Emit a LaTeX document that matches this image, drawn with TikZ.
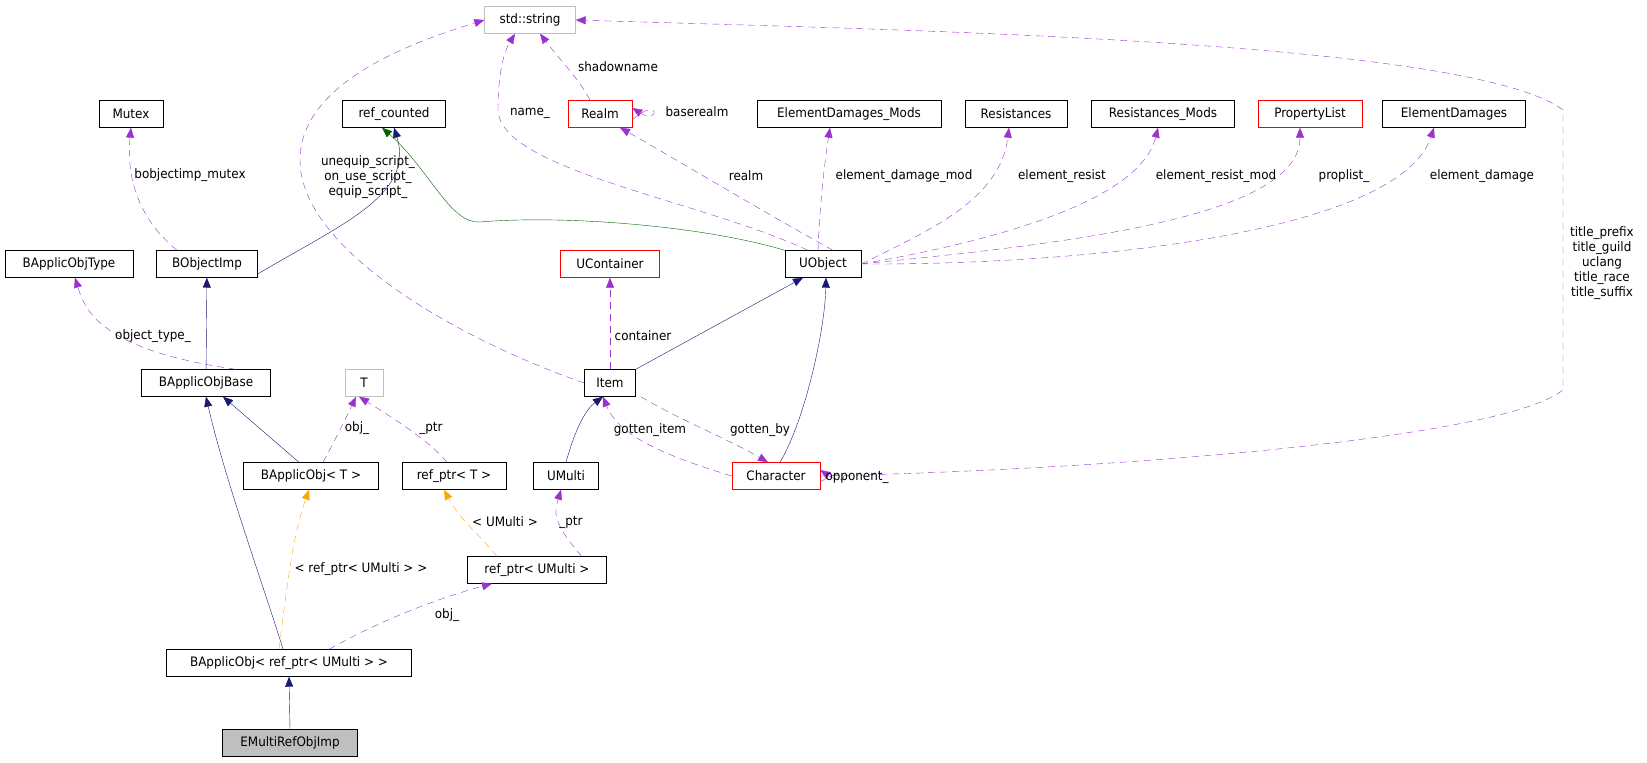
\documentclass[tikz,border=0pt]{standalone}
\usepackage{fontspec}
\setmainfont{DejaVu Sans}[FakeStretch=0.92]
\usetikzlibrary{arrows.meta}
\definecolor{inh}{HTML}{191970}
\definecolor{virt}{HTML}{006400}
\definecolor{use}{HTML}{9A32CD}
\definecolor{tmpl}{HTML}{FFA500}
\definecolor{gbox}{HTML}{BFBFBF}
\tikzset{
 box/.style={draw=black,fill=white,minimum height=27pt,inner sep=0pt,font=\fontsize{13}{15}\selectfont},
 rbox/.style={box,draw=red},
 gbx/.style={box,draw=gbox},
 lbl/.style={font=\fontsize{13}{15}\selectfont,align=center,inner sep=0pt},
 tip/.style={-{Triangle[length=10pt,width=8pt]}},
 ih/.style={tip,draw=inh},
 vh/.style={tip,draw=virt},
 us/.style={tip,draw=use,dash pattern=on 7pt off 5pt},
 tp/.style={tip,draw=tmpl,dash pattern=on 7pt off 5pt},
}
\begin{document}
\begin{tikzpicture}[x=1pt,y=-1pt]
\useasboundingbox (0,0) rectangle (1647,763);
% nodes
\node[gbx,minimum width=91pt] (str) at (530,20) {std::string};
\node[box,minimum width=64pt] (mutex) at (131,114) {Mutex};
\node[box,minimum width=103pt] (rc) at (394,114) {ref\_counted};
\node[rbox,minimum width=64pt] (realm) at (600,114) {Realm};
\node[box,minimum width=184pt] (edm) at (849,114) {ElementDamages\_Mods};
\node[box,minimum width=102pt] (res) at (1016,114) {Resistances};
\node[box,minimum width=143pt] (resm) at (1163,114) {Resistances\_Mods};
\node[rbox,minimum width=104pt] (pl) at (1310,114) {PropertyList};
\node[box,minimum width=143pt] (ed) at (1454,114) {ElementDamages};
\node[box,minimum width=128pt] (bat) at (69,264) {BApplicObjType};
\node[box,minimum width=101pt] (boi) at (207,264) {BObjectImp};
\node[rbox,minimum width=99pt] (uc) at (610,264) {UContainer};
\node[box,minimum width=76pt] (uo) at (823,264) {UObject};
\node[box,minimum width=129pt] (bab) at (206,383) {BApplicObjBase};
\node[gbx,minimum width=38pt] (T) at (364,383) {T};
\node[box,minimum width=51pt] (item) at (610,383) {Item};
\node[box,minimum width=135pt] (baT) at (311,476) {BApplicObj< T >};
\node[box,minimum width=104pt] (rpT) at (454,476) {ref\_ptr< T >};
\node[box,minimum width=65pt] (um) at (566,476) {UMulti};
\node[rbox,minimum width=88pt] (ch) at (776,476) {Character};
\node[box,minimum width=139pt] (rpU) at (537,570) {ref\_ptr< UMulti >};
\node[box,minimum width=245pt] (baU) at (289,663) {BApplicObj< ref\_ptr< UMulti > >};
\node[box,fill=gbox,minimum width=135pt] (emr) at (290,743) {EMultiRefObjImp};
% inheritance
\draw[ih] ([yshift=-10pt]boi.east) .. controls (340,225) and (415,195) .. (rc.south);
\draw[vh] (uo.north west) .. controls (700,225) and (560,215) .. (480,222) .. controls (450,224) and (430,170) .. ([xshift=-12pt]rc.south);
\draw[ih] (bab) -- (boi);
\draw[ih] (item.north east) -- ([xshift=-20pt]uo.south);
\draw[ih] ([xshift=4pt]ch.north) .. controls (805,420) and (825,330) .. ([xshift=3pt]uo.south);
\draw[ih] (um.north) .. controls (575,430) and (585,410) .. ([xshift=-7pt]item.south);
\draw[ih] ([xshift=-12pt]baT.north) -- ([xshift=17pt]bab.south);
\draw[ih] ([xshift=-6pt]baU.north) .. controls (265,590) and (225,480) .. (bab.south);
\draw[ih] (emr.north) -- (baU.south);
% usage
\draw[us] ([xshift=-30pt]boi.north) .. controls (140,220) and (126,180) .. (mutex.south);
\draw[us] ([xshift=-10pt]realm.north) .. controls (580,80) and (560,60) .. ([xshift=10pt]str.south);
\draw[us] ([xshift=-15pt]uo.north) .. controls (700,200) and (500,170) .. (498,110) .. controls (498,70) and (505,50) .. ([xshift=-15pt]str.south);
\draw[us] ([yshift=-6pt]realm.east) .. controls (660,95) and (660,125) .. ([yshift=6pt]realm.east);
\draw[us] ([xshift=10pt]uo.north) .. controls (760,210) and (660,150) .. ([xshift=20pt]realm.south);
\draw[us] ([xshift=-5pt]uo.north) .. controls (820,200) and (825,160) .. ([xshift=-19pt]edm.south);
\draw[us] (uo.east) .. controls (930,230) and (1000,200) .. ([xshift=-7pt]res.south);
\draw[us] (uo.east) .. controls (1000,240) and (1140,200) .. ([xshift=-5pt]resm.south);
\draw[us] (uo.east) .. controls (1050,245) and (1300,220) .. ([xshift=-10pt]pl.south);
\draw[us] (uo.east) .. controls (1100,265) and (1400,230) .. ([xshift=-20pt]ed.south);
\draw[us] (item.west) .. controls (460,340) and (300,250) .. (300,160) .. controls (300,80) and (420,40) .. (str.west);
\draw[us] (ch.east) .. controls (1100,470) and (1500,440) .. (1563,390) -- (1563,110) .. controls (1470,40) and (900,30) .. (str.east);
\draw[us] ([xshift=30pt]bab.north) .. controls (100,350) and (85,310) .. ([xshift=6pt]bat.south);
\draw[us] (item.north) -- (uc.south);
\draw[us] (ch.west) .. controls (680,460) and (620,440) .. ([xshift=-7pt]item.south);
\draw[us] ([xshift=5pt]item.south east) .. controls (680,420) and (730,440) .. ([xshift=-8pt]ch.north);
\draw[us] ([yshift=-6pt]ch.east) .. controls (850,462) and (850,490) .. ([yshift=6pt]ch.east);
\draw[us] ([xshift=12pt]baT.north) .. controls (335,440) and (345,420) .. ([xshift=-8pt]T.south);
\draw[us] ([xshift=-7pt]rpT.north) .. controls (430,440) and (380,410) .. ([xshift=-5pt]T.south);
\draw[us] ([xshift=-25pt]rpU.north east) .. controls (550,520) and (555,510) .. ([xshift=-5pt]um.south);
\draw[us] ([xshift=40pt]baU.north) .. controls (390,615) and (450,595) .. ([xshift=-45pt]rpU.south);
% template
\draw[tp] ([xshift=-10pt]baU.north) .. controls (290,560) and (295,530) .. ([xshift=-2pt]baT.south);
\draw[tp] ([xshift=-40pt]rpU.north) .. controls (480,535) and (460,520) .. ([xshift=-10pt]rpT.south);
% labels
\node[lbl] at (190,175) {bobjectimp\_mutex};
\node[lbl] at (368,177) {unequip\_script\_\\on\_use\_script\_\\equip\_script\_};
\node[lbl] at (530,113) {name\_};
\node[lbl] at (618,67) {shadowname};
\node[lbl] at (697,112) {baserealm};
\node[lbl] at (746,176) {realm};
\node[lbl] at (904,176) {element\_damage\_mod};
\node[lbl] at (1062,176) {element\_resist};
\node[lbl] at (1216,176) {element\_resist\_mod};
\node[lbl] at (1344,176) {proplist\_};
\node[lbl] at (1482,176) {element\_damage};
\node[lbl] at (1602,263) {title\_prefix\\title\_guild\\uclang\\title\_race\\title\_suffix};
\node[lbl] at (153,336) {object\_type\_};
\node[lbl] at (643,336) {container};
\node[lbl] at (650,430) {gotten\_item};
\node[lbl] at (760,430) {gotten\_by};
\node[lbl] at (857,477) {opponent\_};
\node[lbl] at (357,428) {obj\_};
\node[lbl] at (431,428) {\_ptr};
\node[lbl] at (361,569) {< ref\_ptr< UMulti > >};
\node[lbl] at (505,522) {< UMulti >};
\node[lbl] at (571,522) {\_ptr};
\node[lbl] at (447,615) {obj\_};
\end{tikzpicture}
\end{document}
